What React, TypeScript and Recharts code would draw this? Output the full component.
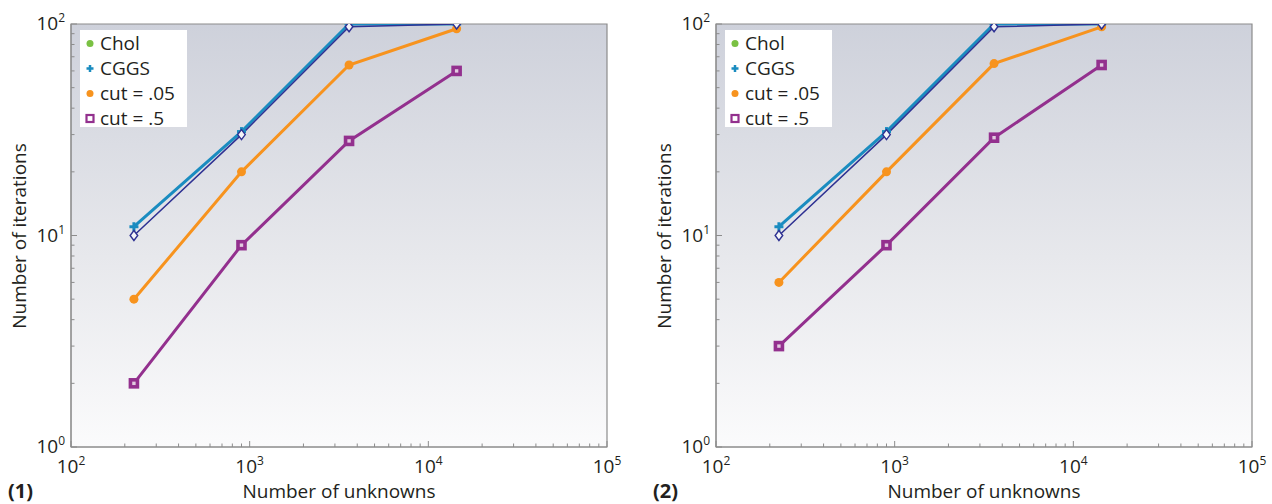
import React from "react";
import { LineChart, Line, XAxis, YAxis, ReferenceArea, Legend } from "recharts";

// number of unknowns (shared by both panels)
const unknowns = [225, 900, 3600, 14400];

// panel (1)
const cggs1 = [11, 31, 100, 100];
const navy1 = [10, 30, 97, 100];
const cut05_1 = [5, 20, 64, 95];
const cut5_1 = [2, 9, 28, 60];

// panel (2)
const cggs2 = [11, 31, 100, 100];
const navy2 = [10, 30, 97, 100];
const cut05_2 = [6, 20, 65, 97];
const cut5_2 = [3, 9, 29, 64];

const xDecades = [100, 1000, 10000, 100000];
const yDecades = [1, 10, 100];
const mantissas = [1, 2, 3, 4, 5, 6, 7, 8, 9];

const xTicks = xDecades.flatMap((d, i) =>
  i === xDecades.length - 1 ? [d] : mantissas.map((m) => m * d)
);
const yTicks = yDecades.flatMap((d, i) =>
  i === yDecades.length - 1 ? [d] : mantissas.map((m) => m * d)
);

const legendItems = [
  { label: "Chol", color: "#7ac143", shape: "dot" },
  { label: "CGGS", color: "#1a8cc0", shape: "plus" },
  { label: "cut = .05", color: "#f7931e", shape: "dot" },
  { label: "cut = .5", color: "#93308e", shape: "square" },
];

const FONT = "'Open Sans', 'DejaVu Sans', sans-serif";
const AXIS = "#8c8c8c";
const TEAL = "#1a8cc0";
const NAVY = "#2e3192";
const ORANGE = "#f7931e";
const PURPLE = "#93308e";

const isDecade = (v: number) => Math.abs(Math.log10(v) - Math.round(Math.log10(v))) < 1e-9;

const Pow = ({ x, y, v, anchor }: { x: number; y: number; v: number; anchor: string }) => (
  <text x={x} y={y} textAnchor={anchor} fontFamily={FONT} fontSize={19} fill="#231f20">
    <tspan>10</tspan>
    <tspan dy={-8} fontSize={12}>
      {Math.round(Math.log10(v))}
    </tspan>
  </text>
);

const XTick = (props: any) => {
  const { x, y, payload } = props;
  const major = isDecade(payload.value);
  return (
    <g>
      <line x1={x} y1={y} x2={x} y2={y - (major ? 6 : 3.5)} stroke={AXIS} strokeWidth={1} />
      {major && <Pow x={x} y={y + 26} v={payload.value} anchor="middle" />}
    </g>
  );
};

const YTick = (props: any) => {
  const { x, y, payload } = props;
  const major = isDecade(payload.value);
  return (
    <g>
      <line x1={x} y1={y} x2={x + (major ? 6 : 3.5)} y2={y} stroke={AXIS} strokeWidth={1} />
      {major && <Pow x={x - 6} y={y + 6} v={payload.value} anchor="end" />}
    </g>
  );
};

const PlusDot = (p: any) => (
  <g key={`p${p.index}`}>
    <rect x={p.cx - 4.5} y={p.cy - 1.5} width={9} height={3} fill={TEAL} />
    <rect x={p.cx - 1.5} y={p.cy - 4.5} width={3} height={9} fill={TEAL} />
  </g>
);

const DiamondDot = (p: any) => (
  <path
    key={`d${p.index}`}
    d={`M${p.cx},${p.cy - 5} L${p.cx + 3.8},${p.cy} L${p.cx},${p.cy + 5} L${p.cx - 3.8},${p.cy} Z`}
    fill="#f4f4f8"
    stroke={NAVY}
    strokeWidth={1.4}
  />
);

const RoundDot = (p: any) => (
  <circle key={`o${p.index}`} cx={p.cx} cy={p.cy} r={4.5} fill={ORANGE} />
);

const SquareDot = (p: any) => (
  <rect
    key={`s${p.index}`}
    x={p.cx - 3.5}
    y={p.cy - 3.5}
    width={7}
    height={7}
    fill="#e2cbe0"
    stroke={PURPLE}
    strokeWidth={3.6}
  />
);

const LegendContent = () => (
  <div
    style={{
      width: 107,
      height: 97,
      background: "#ffffff",
      fontFamily: FONT,
      fontSize: 19,
      color: "#231f20",
      boxSizing: "border-box",
      paddingTop: 1,
    }}
  >
    {legendItems.map((it) => (
      <div key={it.label} style={{ display: "flex", alignItems: "center", height: 25, lineHeight: "25px" }}>
        <svg width={20} height={25} style={{ flex: "none" }}>
          {it.shape === "dot" && <circle cx={10} cy={12.5} r={3.5} fill={it.color} />}
          {it.shape === "plus" && (
            <g>
              <rect x={6.5} y={11.25} width={7} height={2.5} fill={it.color} />
              <rect x={8.75} y={9} width={2.5} height={7} fill={it.color} />
            </g>
          )}
          {it.shape === "square" && (
            <rect x={6.5} y={9} width={7} height={7} fill="#fff" stroke={it.color} strokeWidth={2.2} />
          )}
        </svg>
        <span style={{ whiteSpace: "nowrap" }}>{it.label}</span>
      </div>
    ))}
  </div>
);

type PanelProps = {
  tag: string;
  cggs: number[];
  navy: number[];
  cut05: number[];
  cut5: number[];
  gid: string;
};

const Panel = ({ tag, cggs, navy, cut05, cut5, gid }: PanelProps) => {
  const data = unknowns.map((n, i) => ({
    n,
    cggs: cggs[i],
    navy: navy[i],
    cut05: cut05[i],
    cut5: cut5[i],
  }));

  return (
    <LineChart width={636} height={504} data={data} margin={{ top: 24, right: 29, bottom: 0, left: 0 }}>
      <defs>
        <linearGradient id={gid} x1="0" y1="0" x2="0" y2="1">
          <stop offset="0%" stopColor="#ced1db" />
          <stop offset="55%" stopColor="#e7e8ec" />
          <stop offset="100%" stopColor="#fbfbfc" />
        </linearGradient>
      </defs>
      <XAxis
        dataKey="n"
        type="number"
        scale="log"
        domain={[100, 100000]}
        ticks={xTicks}
        interval={0}
        allowDataOverflow
        height={57}
        tickSize={0}
        tickMargin={0}
        axisLine={{ stroke: AXIS }}
        tick={<XTick />}
      />
      <YAxis
        type="number"
        scale="log"
        domain={[1, 100]}
        ticks={yTicks}
        interval={0}
        allowDataOverflow
        width={71}
        tickSize={0}
        tickMargin={0}
        axisLine={{ stroke: AXIS }}
        tick={<YTick />}
      />
      <ReferenceArea
        x1={100}
        x2={100000}
        y1={1}
        y2={100}
        fill={`url(#${gid})`}
        fillOpacity={1}
        stroke={AXIS}
        strokeWidth={1.2}
      />
      <Line dataKey="cut5" stroke={PURPLE} strokeWidth={3} dot={SquareDot} activeDot={false} isAnimationActive={false} />
      <Line dataKey="cut05" stroke={ORANGE} strokeWidth={3} dot={RoundDot} activeDot={false} isAnimationActive={false} />
      <Line dataKey="cggs" stroke={TEAL} strokeWidth={3} dot={PlusDot} activeDot={false} isAnimationActive={false} />
      <Line dataKey="navy" stroke={NAVY} strokeWidth={1.5} dot={DiamondDot} activeDot={false} isAnimationActive={false} />
      <Legend
        layout="vertical"
        align="center"
        verticalAlign="middle"
        content={<LegendContent />}
        wrapperStyle={{ left: 80, top: 30, width: 107, height: 97 }}
      />
      <text
        x={26}
        y={236}
        transform="rotate(-90 26 236)"
        textAnchor="middle"
        fontFamily={FONT}
        fontSize={19}
        fill="#231f20"
      >
        Number of iterations
      </text>
      <text x={339} y={498} textAnchor="middle" fontFamily={FONT} fontSize={19} fill="#231f20">
        Number of unknowns
      </text>
      <text x={8} y={498} fontFamily={FONT} fontSize={20} fontWeight={700} fill="#231f20">
        {tag}
      </text>
    </LineChart>
  );
};

export default function App() {
  return (
    <div style={{ position: "absolute", left: 0, top: 0, width: 1272, height: 504, background: "#fff" }}>
      <div style={{ position: "absolute", left: 0, top: 0 }}>
        <Panel tag="(1)" cggs={cggs1} navy={navy1} cut05={cut05_1} cut5={cut5_1} gid="bg1" />
      </div>
      <div style={{ position: "absolute", left: 645, top: 0 }}>
        <Panel tag="(2)" cggs={cggs2} navy={navy2} cut05={cut05_2} cut5={cut5_2} gid="bg2" />
      </div>
    </div>
  );
}
